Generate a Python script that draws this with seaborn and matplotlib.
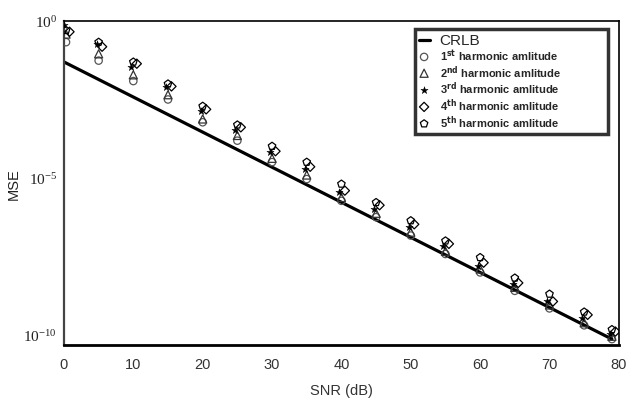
import numpy as np
import pandas as pd
from matplotlib import pyplot as plt
import seaborn as sns

# SNR grid (dB) of the simulated points
snr = [0.3, 5, 10, 15, 20, 25, 30, 35, 40, 45, 50, 55, 60, 65, 70, 75, 79]

# CRLB straight line end points
crlb_snr = [0, 79]
crlb = [4.9e-2, 6.9e-11]

# MSE for each harmonic amplitude
mse_h1 = [2.1e-1, 5.4e-2, 1.2e-2, 3.1e-3, 5.8e-4, 1.5e-4, 3.1e-5, 8.9e-6, 1.8e-6,
          5.4e-7, 1.4e-7, 3.6e-8, 9.3e-9, 2.4e-9, 6.6e-10, 1.9e-10, 6.9e-11]
mse_h2 = [3.8e-1, 8.9e-2, 1.9e-2, 4.4e-3, 7.4e-4, 2.2e-4, 4.1e-5, 1.2e-5, 2.3e-6,
          7.2e-7, 1.8e-7, 4.4e-8, 1.2e-8, 3.1e-9, 8.5e-10, 2.3e-10, 8.5e-11]
mse_h3 = [7.4e-1, 1.9e-1, 3.3e-2, 7.6e-3, 1.3e-3, 3.2e-4, 6.3e-5, 1.9e-5, 3.4e-6,
          1.0e-6, 2.6e-7, 6.6e-8, 1.5e-8, 4.0e-9, 1.1e-9, 3.2e-10, 1.0e-10]
mse_h4 = [4.5e-1, 1.5e-1, 4.3e-2, 8.1e-3, 1.5e-3, 4.0e-4, 6.9e-5, 2.2e-5, 3.8e-6,
          1.3e-6, 3.2e-7, 7.6e-8, 1.9e-8, 4.3e-9, 1.1e-9, 4.1e-10, 1.2e-10]
mse_h5 = [5.0e-1, 2.1e-1, 4.9e-2, 9.8e-3, 1.9e-3, 4.8e-4, 1.0e-4, 3.1e-5, 6.2e-6,
          1.6e-6, 4.2e-7, 9.5e-8, 2.8e-8, 6.2e-9, 1.9e-9, 5.1e-10, 1.4e-10]

labels = [r"1$^{\mathbf{st}}$ harmonic amlitude",
          r"2$^{\mathbf{nd}}$ harmonic amlitude",
          r"3$^{\mathbf{rd}}$ harmonic amlitude",
          r"4$^{\mathbf{th}}$ harmonic amlitude",
          r"5$^{\mathbf{th}}$ harmonic amlitude"]


def plot(outf):
    sns.set_style("white")
    plt.rcParams['font.family'] = ['Liberation Sans', 'DejaVu Sans']

    fig = plt.figure(figsize=(6.27, 4.06), dpi=100)
    ax = fig.add_axes([0.102, 0.148, 0.885, 0.798])

    sns.lineplot(x=crlb_snr, y=crlb, color='black', lw=2.3, ax=ax, label='CRLB')

    # marker, size, edge colour, little sideways shift so they don't fully overlap
    styles = [('o', 28, '#555555', 0.0),
              ('^', 34, '#333333', 0.0),
              ('*', 30, 'black', -0.3),
              ('D', 22, 'black', 0.5),
              ('p', 32, 'black', 0.0)]
    series = [mse_h1, mse_h2, mse_h3, mse_h4, mse_h5]
    for vals, lab, (mk, sz, ec, dx) in zip(series, labels, styles):
        df = pd.DataFrame({'SNR': np.array(snr) + dx, 'MSE': vals})
        if mk == '*':
            sns.scatterplot(data=df, x='SNR', y='MSE', marker=mk, s=sz,
                            color='black', edgecolor='black', linewidth=0.3,
                            ax=ax, label=lab, zorder=3)
        else:
            sns.scatterplot(data=df, x='SNR', y='MSE', marker=mk, s=sz,
                            facecolor='none', edgecolor=ec, linewidth=0.9,
                            ax=ax, label=lab, zorder=3)

    ax.set_yscale('log')
    ax.set_xlim(0, 80)
    ax.set_ylim(4.5e-11, 1.0)
    ax.set_xticks(range(0, 81, 10))
    ax.set_yticks([1e-10, 1e-5, 1e0])
    ax.set_yticklabels([r'$\mathdefault{10^{-10}}$', r'$\mathdefault{10^{-5}}$',
                        r'$\mathdefault{10^{0}}$'], family='Liberation Serif',
                       fontsize=11, color='#222222')
    ax.minorticks_off()
    ax.tick_params(axis='x', length=0, pad=9, labelsize=10.5, labelcolor='#333333')
    ax.tick_params(axis='y', direction='in', length=9, width=1, color='#777777', pad=5)

    ax.set_xlabel('SNR (dB)', fontsize=10.5, color='#333333', labelpad=8)
    ax.set_ylabel('MSE', fontsize=10.5, color='#222222', labelpad=2)

    for side in ['left', 'bottom', 'right', 'top']:
        ax.spines[side].set_color('black')
        ax.spines[side].set_linewidth(1.2)
    ax.spines['bottom'].set_linewidth(2)
    ax.spines['left'].set_color('#444444')
    ax.spines['left'].set_linewidth(1.6)

    leg = ax.legend(loc='upper left', bbox_to_anchor=(0.632, 0.667, 0.348, 0.308),
                    mode='expand', frameon=True, fancybox=False, edgecolor='black',
                    handlelength=1.0, handletextpad=0.9, labelspacing=0.02,
                    borderpad=0.35, borderaxespad=0,
                    prop={'weight': 'bold', 'size': 8})
    leg.get_frame().set_linewidth(2.5)
    texts = leg.get_texts()
    texts[0].set_fontweight('normal')
    texts[0].set_fontsize(11)

    plt.savefig(outf, dpi=100)


if __name__ == "__main__":
    plot("out.png")
